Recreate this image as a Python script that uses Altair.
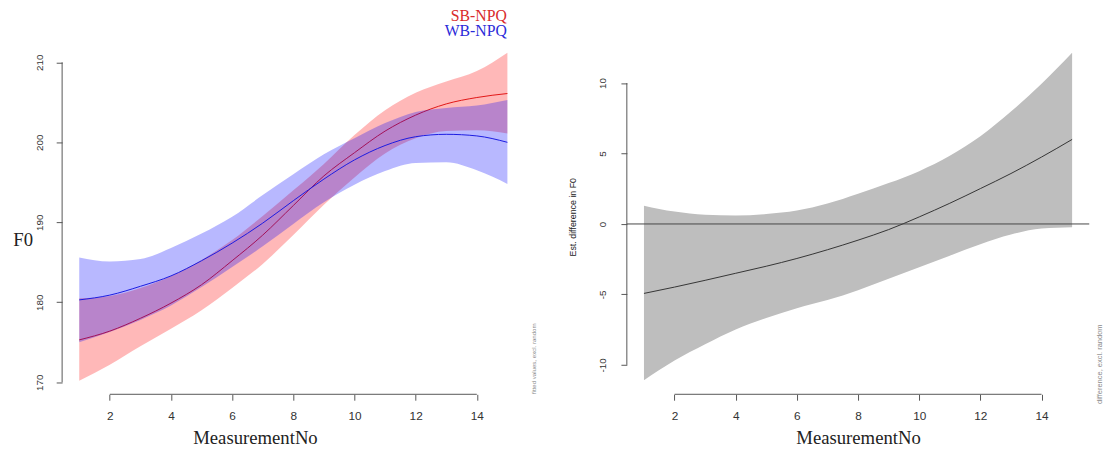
import altair as alt
import pandas as pd

# ---------------- data ----------------
meas_no = list(range(1, 16))

# left panel: fitted F0 with confidence bands
sb_fit = [175.3, 176.4, 178.0, 179.9, 182.2, 185.2, 188.4, 192.1, 195.8, 198.7, 201.4, 203.4, 204.8, 205.6, 206.1]
sb_lo = [170.2, 172.2, 174.5, 176.7, 179.0, 181.8, 184.8, 188.4, 192.2, 195.6, 198.6, 200.5, 201.4, 201.5, 201.1]
sb_hi = [180.5, 180.8, 181.8, 183.3, 185.3, 187.8, 190.8, 194.0, 197.3, 200.9, 204.0, 206.2, 207.6, 208.9, 211.2]

wb_fit = [180.3, 180.9, 182.0, 183.3, 185.2, 187.4, 189.9, 192.7, 195.4, 197.8, 199.6, 200.7, 201.0, 200.8, 200.0]
wb_lo = [175.0, 176.3, 177.8, 179.6, 181.9, 184.4, 187.0, 189.8, 192.5, 194.7, 196.4, 197.4, 197.5, 196.5, 194.8]
wb_hi = [185.6, 185.1, 185.4, 186.8, 188.6, 190.7, 193.4, 196.0, 198.5, 200.5, 202.4, 203.8, 204.3, 204.6, 205.3]

# right panel: estimated difference with confidence band
diff_fit = [-4.93, -4.48, -4.00, -3.50, -3.00, -2.45, -1.83, -1.15, -0.40, 0.50, 1.47, 2.51, 3.58, 4.75, 6.00]
diff_lo = [-11.1, -9.70, -8.54, -7.49, -6.68, -5.98, -5.40, -4.70, -3.88, -3.07, -2.25, -1.44, -0.75, -0.33, -0.23]
diff_hi = [1.30, 0.88, 0.65, 0.60, 0.70, 0.95, 1.45, 2.15, 2.90, 3.75, 4.84, 6.23, 7.98, 9.96, 12.16]

x_ticks = [2, 4, 6, 8, 10, 12, 14]
f0_ticks = [170, 180, 190, 200, 210]
diff_ticks = [-10, -5, 0, 5, 10]
legend_labels = ["SB-NPQ", "WB-NPQ"]
note_left = "fitted values, excl. random"
note_right = "difference, excl. random"

# ---------------- tables ----------------
left_df = pd.DataFrame({"x": meas_no, "sb_fit": sb_fit, "sb_lo": sb_lo, "sb_hi": sb_hi,
                        "wb_fit": wb_fit, "wb_lo": wb_lo, "wb_hi": wb_hi})
right_df = pd.DataFrame({"x": meas_no, "fit": diff_fit, "lo": diff_lo, "hi": diff_hi})
one = pd.DataFrame({"k": [0]})

W, H = 470, 361
SANS = "Liberation Sans"
SERIF = "Liberation Serif"
RED = "#ff0000"
BLUE = "#0000ff"

x_scale = alt.Scale(domain=[0.44, 15.56], nice=False, zero=False)
f0_scale = alt.Scale(domain=[168.5, 212.9], nice=False, zero=False)
diff_scale = alt.Scale(domain=[-12.09, 13.12], nice=False, zero=False)


def x_axis(title_x):
    return alt.Axis(values=x_ticks, domain=False, grid=False, tickSize=6, tickColor="#555",
                    labelFont=SANS, labelFontSize=12, labelColor="#333", labelPadding=11,
                    labelFlush=False, title="MeasurementNo", titleFont=SERIF, titleFontSize=19,
                    titleFontWeight="normal", titleColor="#222", titlePadding=7,
                    titleX=title_x, titleAlign="center")


# ---------------- left panel ----------------
base_l = alt.Chart(left_df)
xl = alt.X("x:Q", scale=x_scale, axis=x_axis(196))
yl_axis = alt.Axis(values=f0_ticks, domain=False, grid=False, tickSize=6, tickColor="#555",
                   labelFont=SANS, labelFontSize=10, labelColor="#333", labelAngle=270,
                   labelAlign="center", labelBaseline="bottom", labelPadding=12,
                   title="F0", titleFont=SERIF, titleFontSize=19, titleFontWeight="normal",
                   titleColor="#222", titleAngle=0, titleAlign="center", titleBaseline="middle",
                   titleX=-40, titleY=204)

red_band = base_l.mark_area(color=RED, opacity=0.28, interpolate="monotone").encode(
    x=xl, y=alt.Y("sb_lo:Q", scale=f0_scale, axis=yl_axis), y2="sb_hi:Q")
red_line = base_l.mark_line(color="#e01414", strokeWidth=1, interpolate="monotone").encode(
    x="x:Q", y="sb_fit:Q")
blue_band = base_l.mark_area(color=BLUE, opacity=0.28, interpolate="monotone").encode(
    x="x:Q", y="wb_lo:Q", y2="wb_hi:Q")
blue_line = base_l.mark_line(color="#1a1ae0", strokeWidth=1, interpolate="monotone").encode(
    x="x:Q", y="wb_fit:Q")

xaxis_l = alt.Chart(one).mark_rule(color="#555", strokeWidth=1).encode(
    x=alt.datum(x_ticks[0]), x2=alt.datum(x_ticks[-1]), y=alt.value(H))
yaxis_l = alt.Chart(one).mark_rule(color="#555", strokeWidth=1).encode(
    y=alt.datum(f0_ticks[0]), y2=alt.datum(f0_ticks[-1]), x=alt.value(0))

leg1 = alt.Chart(one).mark_text(font=SERIF, fontSize=16, align="right", baseline="alphabetic",
                                color="#d92b2b").encode(
    x=alt.value(452), y=alt.value(-18.5), text=alt.datum(legend_labels[0]))
leg2 = alt.Chart(one).mark_text(font=SERIF, fontSize=16, align="right", baseline="alphabetic",
                                color="#2b2bd9").encode(
    x=alt.value(452), y=alt.value(-3.5), text=alt.datum(legend_labels[1]))
note_l = alt.Chart(one).mark_text(font=SANS, fontSize=6.2, angle=270, align="right",
                                  baseline="middle", color="#8a8a8a").encode(
    x=alt.value(480), y=alt.value(289), text=alt.datum(note_left))

left = alt.layer(red_band, red_line, blue_band, blue_line, xaxis_l, yaxis_l,
                 leg1, leg2, note_l).properties(width=W, height=H)

# ---------------- right panel ----------------
base_r = alt.Chart(right_df)
yr_axis = alt.Axis(values=diff_ticks, domain=False, grid=False, tickSize=6, tickColor="#555",
                   labelFont=SANS, labelFontSize=10, labelColor="#333", labelAngle=270,
                   labelAlign="center", labelBaseline="bottom", labelPadding=14,
                   labelExpr="'' + datum.value",
                   title="Est. difference in F0", titleFont=SANS, titleFontSize=9,
                   titleFontWeight="normal", titleColor="#222", titlePadding=20)

grey_band = base_r.mark_area(color="#bebebe", opacity=1, interpolate="monotone").encode(
    x=alt.X("x:Q", scale=x_scale, axis=x_axis(W / 2)),
    y=alt.Y("lo:Q", scale=diff_scale, axis=yr_axis), y2="hi:Q")
diff_line = base_r.mark_line(color="#333", strokeWidth=1, interpolate="monotone").encode(
    x="x:Q", y="fit:Q")
zero_line = alt.Chart(one).mark_rule(color="#444", strokeWidth=1).encode(y=alt.datum(0))
xaxis_r = alt.Chart(one).mark_rule(color="#555", strokeWidth=1).encode(
    x=alt.datum(x_ticks[0]), x2=alt.datum(x_ticks[-1]), y=alt.value(H))
yaxis_r = alt.Chart(one).mark_rule(color="#555", strokeWidth=1).encode(
    y=alt.datum(diff_ticks[0]), y2=alt.datum(diff_ticks[-1]), x=alt.value(0))
note_r = alt.Chart(one).mark_text(font=SANS, fontSize=7.6, angle=270, align="right",
                                  baseline="middle", color="#8a8a8a").encode(
    x=alt.value(481), y=alt.value(290), text=alt.datum(note_right))

right = alt.layer(grey_band, diff_line, zero_line, xaxis_r, yaxis_r, note_r).properties(
    width=W, height=H)

chart = alt.hconcat(left, right, spacing=30).properties(
    padding={"left": 4, "top": -4, "right": 0, "bottom": 0},
    background="white",
).configure_view(stroke=None)

chart.save("out.html", embed_options={"renderer": "svg", "actions": False})
